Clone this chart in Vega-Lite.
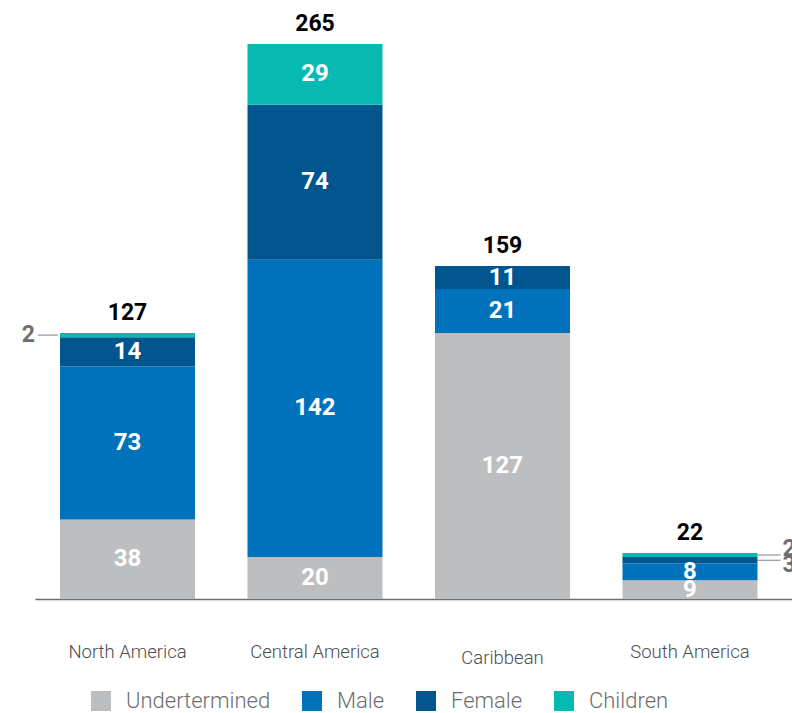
{
  "$schema": "https://vega.github.io/schema/vega-lite/v6.json",
  "autosize": "none",
  "width": 757,
  "height": 599,
  "padding": {"left": 35, "top": 0, "right": 0, "bottom": 114},
  "background": "white",
  "config": {
    "view": {"stroke": null},
    "font": "Roboto"
  },
  "data": {
    "values": [
      {"region": "North America", "group": "Undertermined", "value": 38},
      {"region": "North America", "group": "Male", "value": 73},
      {"region": "North America", "group": "Female", "value": 14},
      {"region": "North America", "group": "Children", "value": 2},
      {"region": "Central America", "group": "Undertermined", "value": 20},
      {"region": "Central America", "group": "Male", "value": 142},
      {"region": "Central America", "group": "Female", "value": 74},
      {"region": "Central America", "group": "Children", "value": 29},
      {"region": "Caribbean", "group": "Undertermined", "value": 127},
      {"region": "Caribbean", "group": "Male", "value": 21},
      {"region": "Caribbean", "group": "Female", "value": 11},
      {"region": "South America", "group": "Undertermined", "value": 9},
      {"region": "South America", "group": "Male", "value": 8},
      {"region": "South America", "group": "Female", "value": 3},
      {"region": "South America", "group": "Children", "value": 2}
    ]
  },
  "transform": [
    {"stack": "value", "groupby": ["region"], "sort": [{"field": "group", "order": "descending"}], "as": ["y0", "y1"]},
    {"calculate": "(datum.y0 + datum.y1) / 2", "as": "ymid"}
  ],
  "encoding": {
    "x": {
      "field": "region",
      "type": "nominal",
      "sort": ["North America", "Central America", "Caribbean", "South America"],
      "scale": {"paddingInner": 0.28, "paddingOuter": 0.1587, "align": 0.42},
      "axis": {
        "title": null,
        "labelAngle": 0,
        "ticks": false,
        "labelFont": "Roboto",
        "labelFontWeight": 300,
        "labelFontSize": 18.5,
        "labelColor": "#4d4d4f",
        "labelPadding": {"condition": {"test": "datum.value == 'Caribbean'", "value": 49}, "value": 43},
        "domainColor": "#6d6e71",
        "domainWidth": 1.5
      }
    }
  },
  "layer": [
    {
      "mark": {"type": "bar"},
      "encoding": {
        "y": {"field": "y1", "type": "quantitative", "scale": {"domain": [0, 286], "nice": false}, "axis": null},
        "y2": {"field": "y0"},
        "color": {
          "field": "group",
          "type": "nominal",
          "scale": {
            "domain": ["Undertermined", "Male", "Female", "Children"],
            "range": ["#bcbec0", "#0072bc", "#00558f", "#06bab2"]
          },
          "legend": {
            "title": null,
            "orient": "none",
            "direction": "horizontal",
            "legendX": 55,
            "legendY": 690,
            "symbolType": "square",
            "symbolSize": 400,
            "symbolStrokeWidth": 0,
            "symbolOpacity": 1,
            "labelFont": "Roboto",
            "labelFontWeight": 300,
            "labelFontSize": 22,
            "labelColor": "#6d6e71",
            "labelOffset": 14,
            "columnPadding": 30
          }
        }
      }
    },
    {
      "transform": [{"filter": "datum.value >= 5"}],
      "mark": {"type": "text", "font": "Roboto", "fontWeight": "bold", "fontSize": 24, "color": "white", "baseline": "middle"},
      "encoding": {
        "y": {"field": "ymid", "type": "quantitative", "scale": {"domain": [0, 286], "nice": false}},
        "text": {"field": "value", "type": "quantitative"}
      }
    },
    {
      "transform": [{"aggregate": [{"op": "sum", "field": "value", "as": "total"}], "groupby": ["region"]}],
      "mark": {"type": "text", "font": "Roboto", "fontWeight": "bold", "fontSize": 23, "color": "black", "baseline": "middle", "dy": -20},
      "encoding": {
        "y": {"field": "total", "type": "quantitative", "scale": {"domain": [0, 286], "nice": false}},
        "text": {"field": "total", "type": "quantitative"}
      }
    },
    {
      "transform": [{"filter": "datum.value < 5 && datum.region == 'North America'"}],
      "mark": {"type": "rule", "color": "#808285", "strokeWidth": 1, "xOffset": -22, "x2Offset": -2},
      "encoding": {
        "x": {"field": "region", "type": "nominal", "bandPosition": 0, "sort": ["North America", "Central America", "Caribbean", "South America"]},
        "x2": {"field": "region", "bandPosition": 0},
        "y": {"field": "ymid", "type": "quantitative", "scale": {"domain": [0, 286], "nice": false}}
      }
    },
    {
      "transform": [{"filter": "datum.value < 5 && datum.region == 'North America'"}],
      "mark": {"type": "text", "font": "Roboto", "fontWeight": "bold", "fontSize": 23, "color": "#6d6e71", "baseline": "middle", "align": "right", "dx": -25},
      "encoding": {
        "x": {"field": "region", "type": "nominal", "bandPosition": 0, "sort": ["North America", "Central America", "Caribbean", "South America"]},
        "y": {"field": "ymid", "type": "quantitative", "scale": {"domain": [0, 286], "nice": false}},
        "text": {"field": "value", "type": "quantitative"}
      }
    },
    {
      "transform": [{"filter": "datum.value < 5 && datum.region == 'South America'"}],
      "mark": {"type": "rule", "color": "#808285", "strokeWidth": 1, "xOffset": 0, "x2Offset": 23},
      "encoding": {
        "x": {"field": "region", "type": "nominal", "bandPosition": 1, "sort": ["North America", "Central America", "Caribbean", "South America"]},
        "x2": {"field": "region", "bandPosition": 1},
        "y": {"field": "ymid", "type": "quantitative", "scale": {"domain": [0, 286], "nice": false}}
      }
    },
    {
      "transform": [{"filter": "datum.region == 'South America' && datum.group == 'Children'"}],
      "mark": {"type": "text", "font": "Roboto", "fontWeight": "bold", "fontSize": 23, "color": "#6d6e71", "baseline": "middle", "align": "left", "dx": 25, "dy": -6},
      "encoding": {
        "x": {"field": "region", "type": "nominal", "bandPosition": 1, "sort": ["North America", "Central America", "Caribbean", "South America"]},
        "y": {"field": "ymid", "type": "quantitative", "scale": {"domain": [0, 286], "nice": false}},
        "text": {"field": "value", "type": "quantitative"}
      }
    },
    {
      "transform": [{"filter": "datum.region == 'South America' && datum.group == 'Female'"}],
      "mark": {"type": "text", "font": "Roboto", "fontWeight": "bold", "fontSize": 23, "color": "#6d6e71", "baseline": "middle", "align": "left", "dx": 25, "dy": 5},
      "encoding": {
        "x": {"field": "region", "type": "nominal", "bandPosition": 1, "sort": ["North America", "Central America", "Caribbean", "South America"]},
        "y": {"field": "ymid", "type": "quantitative", "scale": {"domain": [0, 286], "nice": false}},
        "text": {"field": "value", "type": "quantitative"}
      }
    }
  ]
}
